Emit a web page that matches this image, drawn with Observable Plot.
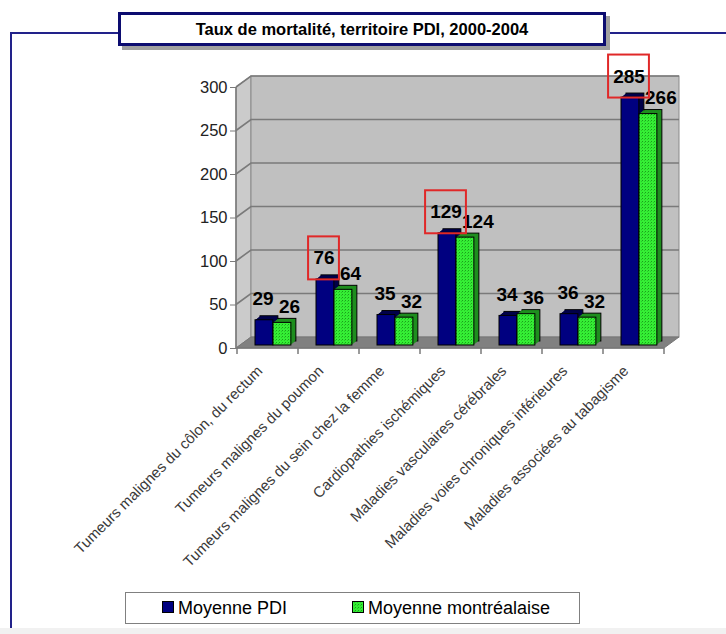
<!DOCTYPE html>
<html><head><meta charset="utf-8">
<script src="https://cdn.jsdelivr.net/npm/d3@7"></script>
<script src="https://cdn.jsdelivr.net/npm/@observablehq/plot@0.6"></script>
<style>
body{margin:0;background:#fff;font-family:"Liberation Sans",Arial,sans-serif;}
#wrap{position:relative;width:726px;height:634px;overflow:hidden;background:#fff;}
#chart{position:absolute;left:0;top:0;}
#frame{position:absolute;left:10px;top:32px;width:716px;height:596px;border-left:2px solid #22228a;border-top:2px solid #22228a;box-sizing:border-box;}
#strip{position:absolute;left:0;top:628px;width:726px;height:6px;background:#f1f1f1;}
#title{position:absolute;left:118px;top:12px;width:488px;height:34px;box-sizing:border-box;border:3px solid #0c0c70;background:#fff;box-shadow:4px 4px 0 #a0a0a0;font-weight:bold;font-size:16.5px;text-align:center;line-height:29px;color:#000;}
#legend{position:absolute;left:125px;top:592px;width:455px;height:32px;box-sizing:border-box;border:1px solid #808080;background:#fff;}
.item{position:absolute;top:0;height:30px;line-height:30px;font-size:18px;color:#000;white-space:nowrap;}
.item svg{vertical-align:middle;margin-right:4px;position:relative;top:-2px;}
</style></head>
<body>
<svg width="0" height="0" style="position:absolute">
  <defs>
    <pattern id="gdots" width="3" height="3" patternUnits="userSpaceOnUse">
      <rect width="3" height="3" fill="#35ee35"/>
      <rect x="0" y="0" width="1" height="1" fill="#1aa01a"/>
      <rect x="2" y="1" width="1" height="1" fill="#28c828"/>
    </pattern>
  </defs>
</svg>
<div id="wrap">
  <div id="frame"></div>
  <div id="strip"></div>
  <div id="chart"></div>
  <div id="title"></div>
  <div id="legend"></div>
</div>
<script>
const title = "Taux de mortalité, territoire PDI, 2000-2004";
const categories = [
  "Tumeurs malignes du côlon, du rectum",
  "Tumeurs malignes du poumon",
  "Tumeurs malignes du sein chez la femme",
  "Cardiopathies ischémiques",
  "Maladies vasculaires cérébrales",
  "Maladies voies chroniques inférieures",
  "Maladies associées au tabagisme"
];
const pdi = [29, 76, 35, 129, 34, 36, 285];
const mtl = [26, 64, 32, 124, 36, 32, 266];
const boxed = ["Tumeurs malignes du poumon", "Cardiopathies ischémiques", "Maladies associées au tabagisme"];
const yTicks = [0, 50, 100, 150, 200, 250, 300];
const seriesNames = ["Moyenne PDI", "Moyenne montréalaise"];
const seriesFills = ["#000080", "url(#gdots)"];
const seriesSides = ["#00004a", "#1f8f1f"];

const rows = categories.map((cat, i) => ({cat, pdi: pdi[i], mtl: mtl[i], boxed: boxed.includes(cat)}));

const W = 726, H = 634, ML = 236, MR = 62, MT = 87, MB = 286;
const band = (W - ML - MR) / categories.length;
const DX = 15, DY = -11;   // depth of the 3D box
const LIFT = -3;           // bars stand a little behind the front edge
const BAR = 18, GAP = 18;  // bar width, left gap inside a band

function walls(index, {x, y}, values, dims) {
  const g = d3.create("svg:g");
  const x0 = dims.marginLeft, x1 = dims.width - dims.marginRight;
  const yb = y(yTicks[0]), yt = y(yTicks[yTicks.length - 1]);
  g.append("path").attr("d", `M${x0},${yb}L${x0},${yt}L${x0 + DX},${yt + DY}L${x0 + DX},${yb + DY}Z`)
    .attr("fill", "#cbcbcb").attr("stroke", "#8a8a8a");
  g.append("rect").attr("x", x0 + DX).attr("y", yt + DY).attr("width", x1 - x0).attr("height", yb - yt)
    .attr("fill", "#c0c0c0").attr("stroke", "#8a8a8a");
  for (const v of yTicks.slice(1)) {
    g.append("path").attr("d", `M${x0},${y(v)}L${x0 + DX},${y(v) + DY}L${x1 + DX},${y(v) + DY}`)
      .attr("fill", "none").attr("stroke", "#7a7a7a").attr("stroke-width", 1.6);
  }
  g.append("path").attr("d", `M${x0},${yb}L${x0 + DX},${yb + DY}L${x1 + DX},${yb + DY}L${x1},${yb}Z`)
    .attr("fill", "#808080").attr("stroke", "#777");
  g.append("path").attr("d", `M${x0},${yt}L${x0},${yb}L${x1},${yb}`).attr("fill", "none").attr("stroke", "#7a7a7a").attr("stroke-width", 1.5);
  const bounds = categories.map(c => x(c)).concat([x1]);
  for (const bx of bounds) {
    g.append("line").attr("x1", bx).attr("x2", bx).attr("y1", yb).attr("y2", yb + 6).attr("stroke", "#7a7a7a").attr("stroke-width", 1.5);
  }
  return g.node();
}

function barSet(key, k) {
  const insetLeft = GAP + k * BAR, insetRight = band - insetLeft - BAR;
  const marks = [];
  for (let i = 5; i >= 1; i--) {
    marks.push(Plot.barY(rows, {x: "cat", y: key, insetLeft, insetRight, dx: i, dy: LIFT - 0.8 * i,
      fill: seriesSides[k], stroke: i === 5 ? "#000" : "none", strokeWidth: 1}));
  }
  marks.push(Plot.barY(rows, {x: "cat", y: key, insetLeft, insetRight, dy: LIFT,
    fill: seriesFills[k], stroke: "#000", strokeWidth: 1}));
  return marks;
}

const boxOpts = (w) => ({x: "cat", y1: "pdi", y2: "pdi", insetLeft: (band - w) / 2, insetRight: (band - w) / 2,
  insetTop: -21.5, insetBottom: -21.5, dx: -5, dy: LIFT - 21, fill: "none", stroke: "#e02828", strokeWidth: 2});

const plot = Plot.plot({
  width: W, height: H,
  marginLeft: ML, marginRight: MR, marginTop: MT, marginBottom: MB,
  style: {fontFamily: "'Liberation Sans', Arial, sans-serif", background: "transparent"},
  x: {type: "band", domain: categories, padding: 0},
  y: {domain: [0, 300]},
  marks: [
    walls,
    ...barSet("pdi", 0),
    ...barSet("mtl", 1),
    Plot.text(rows, {x: "cat", y: "pdi", text: d => String(d.pdi), dx: -5, dy: LIFT - 21,
      fontSize: 19, fontWeight: "bold", fill: "#000"}),
    Plot.text(rows, {x: "cat", y: "mtl", text: d => String(d.mtl), dx: 11, dy: LIFT - 16, textAnchor: "start",
      fontSize: 19, fontWeight: "bold", fill: "#000"}),
    Plot.barY(rows.filter(d => d.boxed && String(d.pdi).length === 2), boxOpts(31)),
    Plot.barY(rows.filter(d => d.boxed && String(d.pdi).length === 3), boxOpts(41)),
    Plot.axisY({ticks: yTicks, tickSize: 6, tickPadding: 3, fontSize: 16.5, stroke: "#7a7a7a", fill: "#222", label: null}),
    Plot.axisX({tickRotate: -45, tickSize: 0, tickPadding: 20, dx: -8, fontSize: 15, fill: "#3a3a3a", label: null})
  ]
});
document.getElementById("chart").appendChild(plot);

document.getElementById("title").textContent = title;
const legend = document.getElementById("legend");
const legendX = [36, 226];
seriesNames.forEach((name, k) => {
  const item = document.createElement("div");
  item.className = "item";
  item.style.left = legendX[k] + "px";
  item.innerHTML = `<svg width="12" height="12"><rect x="0.5" y="0.5" width="11" height="11" fill="${seriesFills[k]}" stroke="#000"/></svg>`;
  item.appendChild(document.createTextNode(name));
  legend.appendChild(item);
});
</script>
</body></html>
